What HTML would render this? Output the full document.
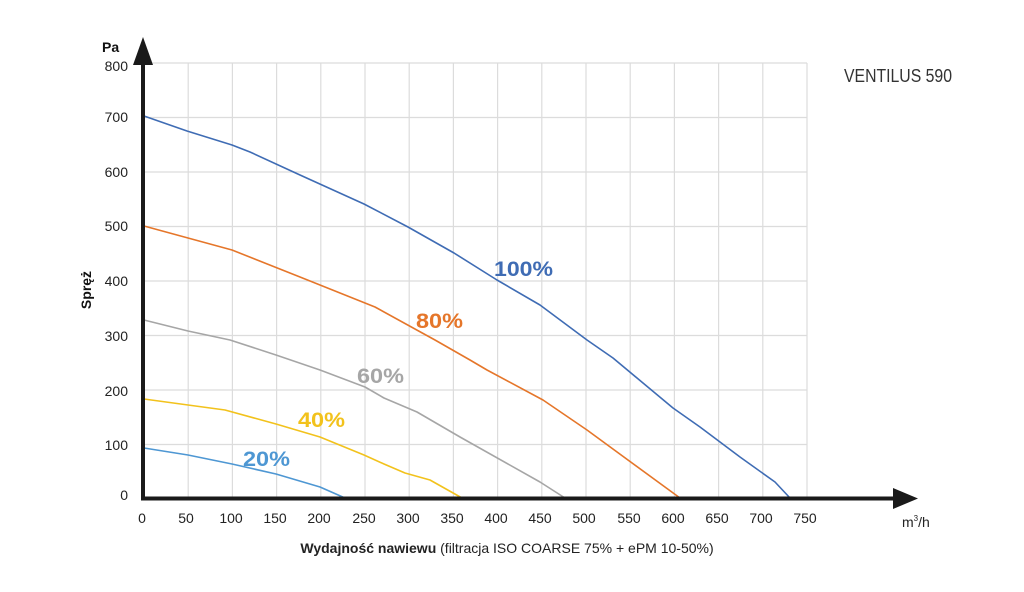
<!DOCTYPE html>
<html><head><meta charset="utf-8"><style>
html,body{margin:0;padding:0;background:#fff;}
svg{display:block;font-family:"Liberation Sans",sans-serif;}
</style></head><body>
<svg width="1024" height="592" viewBox="0 0 1024 592">
<g stroke="#dcdcdc" stroke-width="1.2">
<line x1="144" y1="63" x2="807" y2="63"/>
<line x1="144" y1="117.5" x2="807" y2="117.5"/>
<line x1="144" y1="172" x2="807" y2="172"/>
<line x1="144" y1="226.5" x2="807" y2="226.5"/>
<line x1="144" y1="281" x2="807" y2="281"/>
<line x1="144" y1="335.5" x2="807" y2="335.5"/>
<line x1="144" y1="390" x2="807" y2="390"/>
<line x1="144" y1="444.5" x2="807" y2="444.5"/>
<line x1="188.2" y1="63" x2="188.2" y2="499"/>
<line x1="232.4" y1="63" x2="232.4" y2="499"/>
<line x1="276.6" y1="63" x2="276.6" y2="499"/>
<line x1="320.8" y1="63" x2="320.8" y2="499"/>
<line x1="365" y1="63" x2="365" y2="499"/>
<line x1="409.2" y1="63" x2="409.2" y2="499"/>
<line x1="453.4" y1="63" x2="453.4" y2="499"/>
<line x1="497.6" y1="63" x2="497.6" y2="499"/>
<line x1="541.8" y1="63" x2="541.8" y2="499"/>
<line x1="586" y1="63" x2="586" y2="499"/>
<line x1="630.2" y1="63" x2="630.2" y2="499"/>
<line x1="674.4" y1="63" x2="674.4" y2="499"/>
<line x1="718.6" y1="63" x2="718.6" y2="499"/>
<line x1="762.8" y1="63" x2="762.8" y2="499"/>
<line x1="807" y1="63" x2="807" y2="499"/>
</g>
<g fill="none" stroke-width="1.6" stroke-linejoin="round">
<polyline stroke="#3f6cb4" points="144,116 187,131 232,145 250,152 300,175 364,204 408,227 454,253 497,280 540,305 587,340 613,358 673,408 700,427 740,457 775,482 790,498"/>
<polyline stroke="#e5762a" points="144,226 232,250 300,277 375,307 435,340 470,360 487,370 543,400 587,430 680,498"/>
<polyline stroke="#a6a6a6" points="144,320 188,331 230,340 276,355 320,370 365,387 384,398 417,412 460,437 540,482 565,498"/>
<polyline stroke="#f2c21c" points="144,399 188,405 225,410 276,424 320,437 364,455 384,464 405,473 430,480 462,498"/>
<polyline stroke="#4e97d3" points="144,448 188,455 232,464 276,474 320,487 345,498"/>
</g>
<g font-weight="bold" font-size="21">
<text x="494" y="276" fill="#3f6cb4" textLength="59" lengthAdjust="spacingAndGlyphs">100%</text>
<text x="416" y="328" fill="#e5762a" textLength="47" lengthAdjust="spacingAndGlyphs">80%</text>
<text x="357" y="383" fill="#a6a6a6" textLength="47" lengthAdjust="spacingAndGlyphs">60%</text>
<text x="298" y="427" fill="#f2c21c" textLength="47" lengthAdjust="spacingAndGlyphs">40%</text>
<text x="243" y="466" fill="#4e97d3" textLength="47" lengthAdjust="spacingAndGlyphs">20%</text>
</g>
<line x1="143" y1="500" x2="143" y2="60" stroke="#1a1a1a" stroke-width="4"/>
<polygon points="143,37 133,65 153,65" fill="#1a1a1a"/>
<line x1="141" y1="498.5" x2="900" y2="498.5" stroke="#1a1a1a" stroke-width="4"/>
<polygon points="918,498.5 893,488 893,509" fill="#1a1a1a"/>
<g font-size="14" fill="#222" text-anchor="end">
<text x="128" y="71">800</text>
<text x="128" y="122">700</text>
<text x="128" y="177">600</text>
<text x="128" y="231">500</text>
<text x="128" y="286">400</text>
<text x="128" y="341">300</text>
<text x="128" y="396">200</text>
<text x="128" y="450">100</text>
<text x="128" y="500">0</text>
</g>
<g font-size="14" fill="#222" text-anchor="middle">
<text x="142" y="523">0</text>
<text x="186" y="523">50</text>
<text x="231" y="523">100</text>
<text x="275" y="523">150</text>
<text x="319" y="523">200</text>
<text x="364" y="523">250</text>
<text x="408" y="523">300</text>
<text x="452" y="523">350</text>
<text x="496" y="523">400</text>
<text x="540" y="523">450</text>
<text x="584" y="523">500</text>
<text x="629" y="523">550</text>
<text x="673" y="523">600</text>
<text x="717" y="523">650</text>
<text x="761" y="523">700</text>
<text x="805" y="523">750</text>
</g>
<text x="902" y="527" font-size="14" fill="#222">m<tspan font-size="8" dy="-6">3</tspan><tspan dy="6">/h</tspan></text>
<text x="102" y="52" font-size="14" font-weight="bold" fill="#111">Pa</text>
<text transform="translate(91,290) rotate(-90)" text-anchor="middle" font-size="14" font-weight="bold" fill="#111">Spręż</text>
<text x="507" y="553" text-anchor="middle" font-size="14" fill="#222"><tspan font-weight="bold">Wydajność nawiewu</tspan> (filtracja ISO COARSE 75% + ePM 10-50%)</text>
<text x="898" y="82" text-anchor="middle" font-size="18" fill="#333" textLength="108" lengthAdjust="spacingAndGlyphs">VENTILUS 590</text>
</svg>
</body></html>
